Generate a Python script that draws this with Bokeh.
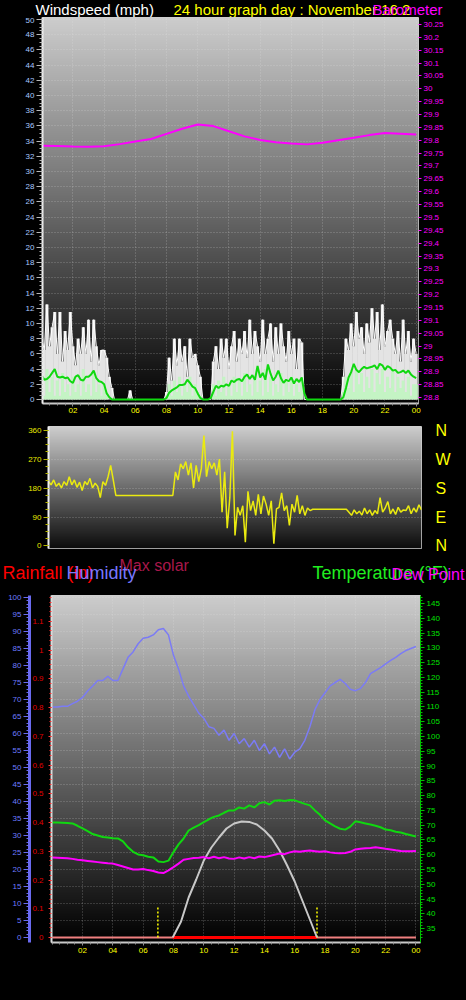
import numpy as np
from bokeh.plotting import figure
from bokeh.models import Range1d, LinearAxis, FixedTicker, Label
from bokeh.layouts import column
from bokeh.embed import file_html
from bokeh.resources import INLINE

# ---------------- data ----------------
hour_ticks = [2, 4, 6, 8, 10, 12, 14, 16, 18, 20, 22, 24]
hour_labels = ["02", "04", "06", "08", "10", "12", "14", "16", "18", "20", "22", "00"]

# wind (mph), 10-minute samples 00:00 .. 24:00
wind_gust = [
    8, 6.5, 12.5, 7, 9.5, 11.5,
    6, 11.5, 5, 9, 6.5, 11.5,
    7, 4.5, 8, 6, 9.5, 6,
    10.5, 5, 10.5, 7, 4.5, 6.5,
    6.5, 5.5, 3, 1.5, 0, 0,
    0, 0, 0, 0, 1.2, 0,
    0, 0, 0, 0, 0, 0,
    0, 0, 0, 0, 0, 0,
    1, 5.5, 2.5, 8, 4.5, 8,
    5, 7, 3, 8, 5.5, 6,
    4.5, 3, 0, 0, 0, 0,
    5, 7, 4, 8, 5.5, 8,
    4, 7, 9, 5, 8, 6,
    9, 5.5, 10.5, 6, 9, 7,
    5, 10.5, 6, 8, 10, 5,
    9.5, 6, 10, 7, 5, 9,
    6, 8, 4, 8, 7.5, 0,
    0, 0, 0, 0, 0, 0,
    0, 0, 0, 0, 0, 0,
    0, 0, 3, 8, 6.5, 10,
    7, 11.5, 8, 9.5, 6, 10,
    7.5, 12, 8, 11.5, 6.5, 12.5,
    7, 9, 10.5, 8, 6, 9,
    5, 10.5, 6, 9, 5, 8,
    6]
wind_speed = [
    2, 0.5, 4, 1, 3, 0.5,
    2.5, 0.5, 3.5, 1, 2, 0.5,
    3, 1, 2, 0.5, 4, 1,
    2, 0.5, 3.5, 1, 2, 0.5,
    2, 0.5, 0, 0, 0, 0,
    0, 0, 0, 0, 0, 0,
    0, 0, 0, 0, 0, 0,
    0, 0, 0, 0, 0, 0,
    0.5, 2, 0.5, 2.5, 1, 3,
    0.5, 2, 1, 3, 0.5, 2,
    1, 0.5, 0, 0, 0, 0,
    2, 0.5, 2.5, 1, 3, 0.5,
    2, 0.5, 3, 1, 2.5, 0.5,
    3.5, 1, 2, 0.5, 3, 1,
    2.5, 0.5, 4, 1, 3, 0.5,
    2, 1, 3.5, 0.5, 2.5, 1,
    3, 0.5, 2, 1, 2.5, 0,
    0, 0, 0, 0, 0, 0,
    0, 0, 0, 0, 0, 0,
    0, 0, 1, 3, 1.5, 3.5,
    1, 4, 2, 3.5, 1, 3,
    1.5, 4, 1, 3.5, 2, 4,
    1, 3, 1.5, 4, 1, 3,
    1.5, 2.5, 1, 3, 0.5, 2,
    2]
wind_avg = [
    3.2, 2.6, 2.7, 3.0, 3.5, 4.0,
    3.0, 2.9, 3.0, 2.8, 2.9, 2.4,
    2.2, 3.0, 3.2, 2.6, 2.5, 3.0,
    3.0, 3.3, 3.8, 2.8, 2.4, 2.3,
    2.0, 0.8, 0.3, 0, 0, 0,
    0, 0, 0, 0, 0, 0,
    0, 0, 0, 0, 0, 0,
    0, 0, 0, 0, 0, 0,
    0.2, 0.9, 1.2, 1.4, 1.6, 1.9,
    1.9, 2.0, 2.6, 2.2, 1.7, 1.5,
    0.8, 0.2, 0, 0, 0, 0.2,
    1.0, 1.8, 1.5, 1.8, 1.7, 2.0,
    1.8, 2.5, 2.3, 2.6, 2.7, 2.4,
    3.0, 3.3, 2.7, 3.2, 2.6, 4.4,
    2.9, 3.5, 2.6, 4.6, 3.4, 2.5,
    3.0, 3.8, 2.8, 2.2, 2.6, 2.4,
    2.9, 2.1, 2.7, 2.3, 2.9, 0.8,
    0, 0, 0, 0, 0, 0,
    0, 0, 0, 0, 0, 0,
    0, 0, 0.3, 1.5, 2.9, 3.6,
    4.7, 3.9, 3.6, 4.0, 4.3, 4.1,
    4.2, 4.3, 4.5, 4.0, 4.7, 4.5,
    3.9, 4.4, 4.2, 3.8, 3.9, 3.5,
    3.6, 3.8, 3.5, 3.8, 3.3, 3.0,
    2.8]

# barometer (inHg), hourly
barometer = [29.779, 29.778, 29.776, 29.775, 29.777, 29.785, 29.795, 29.805,
             29.825, 29.845, 29.861, 29.855, 29.835, 29.815, 29.801, 29.792,
             29.787, 29.784, 29.790, 29.800, 29.810, 29.820, 29.828, 29.825,
             29.822]
baro_ticks = [round(28.8 + 0.05 * i, 2) for i in range(30)]
baro_labels = ["%g" % t for t in baro_ticks]

# wind direction (degrees), 10-minute samples
wind_dir = [
    200, 190, 205, 185, 195, 180,
    200, 188, 215, 190, 205, 182,
    198, 172, 200, 190, 210, 180,
    195, 185, 150, 200, 188, 215,
    250, 205, 157, 157, 157, 157,
    157, 157, 157, 157, 157, 157,
    157, 157, 157, 157, 157, 157,
    157, 157, 157, 157, 157, 157,
    157, 230, 205, 255, 240, 262,
    220, 258, 180, 250, 200, 240,
    343, 215, 262, 240, 258, 220,
    270, 105, 230, 55, 150, 356,
    33, 120, 95, 125, 12, 170,
    110, 140, 95, 160, 100, 155,
    130, 95, 140, 7, 115, 120,
    165, 110, 125, 64, 130, 105,
    157, 100, 125, 95, 118, 110,
    114, 114, 114, 114, 114, 114,
    114, 114, 114, 114, 114, 114,
    114, 114, 105, 95, 112, 100,
    108, 96, 118, 100, 112, 95,
    110, 100, 150, 105, 118, 138,
    100, 115, 98, 120, 105, 112,
    110, 125, 100, 118, 105, 128,
    112]
compass_ticks = [0, 90, 180, 270, 360]
compass_labels = ["N", "E", "S", "W", "N"]

# humidity (%), temperature and dew point (F), 20-minute samples
humidity = [67.8, 67.8, 68.0, 68.0, 68.8, 69.5, 70.6, 72.5, 74.0, 75.6, 75.6, 76.8,
            75.6, 75.6, 79.0, 82.4, 84.0, 86.4, 88.0, 88.3, 89.0, 90.5, 90.9, 89.0,
            83.0, 79.0, 74.0, 71.0, 68.5, 66.0, 64.5, 62.0, 61.5, 59.5, 61.0, 58.0,
            60.0, 57.0, 58.5, 56.0, 58.0, 55.0, 57.0, 54.0, 56.0, 53.0, 55.5, 52.5,
            54.5, 55.5, 58.0, 62.0, 67.0, 70.0, 72.0, 74.0, 75.0, 75.9, 74.7, 73.0,
            72.6, 73.2, 75.0, 77.6, 78.5, 79.4, 80.5, 81.5, 82.4, 83.5, 84.4, 85.0,
            85.6]
temperature = [70.9, 70.9, 70.8, 70.7, 70.6, 69.8, 68.9, 68.0, 67.0, 66.5, 66.0, 65.8,
               65.6, 65.5, 64.5, 62.5, 61.0, 60.1, 59.8, 59.3, 59.1, 57.7, 57.5, 58.0,
               60.9, 63.5, 65.5, 68.2, 69.2, 70.0, 71.0, 72.0, 72.8, 73.3, 74.2, 75.0,
               75.0, 76.0, 75.6, 76.7, 76.0, 77.4, 77.8, 77.0, 78.3, 78.4, 78.2, 78.5,
               78.4, 77.8, 77.2, 76.7, 75.0, 73.5, 71.6, 70.6, 69.6, 68.8, 68.5, 69.5,
               71.3, 71.0, 70.6, 70.2, 69.8, 69.3, 68.5, 68.3, 67.8, 67.5, 67.0, 66.6,
               66.2]
dewpoint = [59.1, 59.0, 58.9, 58.8, 58.6, 58.3, 58.1, 57.9, 57.7, 57.5, 57.3, 57.1,
            57.0, 56.5, 56.0, 55.5, 55.0, 55.0, 55.2, 54.8, 54.5, 54.0, 53.8, 54.7,
            55.8, 57.0, 58.3, 58.6, 58.9, 59.0, 59.2, 58.8, 59.3, 58.8, 59.2, 58.7,
            58.6, 59.1, 58.7, 59.2, 58.8, 59.4, 59.2, 59.6, 60.0, 60.4, 60.2, 60.8,
            61.2, 61.0, 61.3, 61.4, 61.2, 61.0, 61.2, 60.8, 60.6, 60.5, 60.6, 61.0,
            61.8, 62.0, 62.2, 62.3, 62.5, 62.3, 62.0, 61.8, 61.5, 61.3, 61.2, 61.2,
            61.3]

# max solar (W/m2)
solar_hours = [7.95, 8.5, 9.0, 9.5, 10.0, 10.5, 11.0, 11.5, 12.0, 12.5, 13.0,
               13.5, 14.0, 14.5, 15.0, 15.5, 16.0, 16.5, 17.0, 17.47]
solar_max = [0, 80, 200, 290, 385, 450, 500, 545, 570, 580, 578,
             565, 535, 495, 435, 360, 280, 185, 90, 0]

# rain (in)
rain_hours = [0, 4, 8, 12, 16, 20, 24]
rain_total = [0.0, 0.0, 0.0, 0.0, 0.0, 0.0, 0.0]
rain_rate_hours = [7.95, 17.47]
rain_rate = [0.0, 0.0]

sun_events = [6.97, 17.47]   # sunrise, sunset

# ---------------- helpers ----------------
FONT = "Liberation Sans"
W = 466


def gradient_img(top, bottom, n=200):
    img = np.empty((n, 1), dtype=np.uint32)
    view = img.view(dtype=np.uint8).reshape((n, 1, 4))
    g = np.linspace(bottom, top, n).astype(np.uint8)
    view[:, 0, 0] = g
    view[:, 0, 1] = g
    view[:, 0, 2] = g
    view[:, 0, 3] = 255
    return img


def add_gradient(p, top, bottom):
    xr, yr = p.x_range, p.y_range
    p.image_rgba(image=[gradient_img(top, bottom)], x=xr.start, y=yr.start,
                 dw=xr.end - xr.start, dh=yr.end - yr.start, level="image")


def style_axis(ax, label_color, line_color=None, line_width=1, tick_color=None,
               tick_out=4, minor_out=2, standoff=2, size="8px"):
    ax.major_label_text_color = label_color
    ax.major_label_text_font = FONT
    ax.major_label_text_font_size = size
    ax.axis_line_color = line_color
    ax.axis_line_width = line_width
    ax.major_tick_line_color = tick_color
    ax.minor_tick_line_color = tick_color
    ax.major_tick_out = tick_out
    ax.major_tick_in = 0
    ax.minor_tick_out = minor_out
    ax.minor_tick_in = 0
    ax.major_label_standoff = standoff


def style_grid(g):
    g.grid_line_color = "#e8e8e8"
    g.grid_line_alpha = 0.35
    g.grid_line_dash = "1 2"


def make_fig(h, xr, yr, left, right, top, bottom):
    return figure(width=W, height=h, x_range=xr, y_range=yr,
                  output_backend="svg", toolbar_location=None, frame_align=False,
                  min_border_left=left, min_border_right=right,
                  min_border_top=top, min_border_bottom=bottom,
                  background_fill_color="black", border_fill_color="black",
                  outline_line_color="#d0d0d0", outline_line_width=1)


def text_strip(y_top, y_bottom):
    """A black strip whose whole canvas is its frame; y given in page pixels."""
    t = figure(width=W, height=y_bottom - y_top, x_range=Range1d(0, W),
               y_range=Range1d(y_bottom, y_top), output_backend="svg",
               toolbar_location=None, frame_align=False, min_border=0,
               background_fill_color="black", border_fill_color="black",
               outline_line_color=None)
    t.axis.visible = False
    t.grid.visible = False
    return t


def add_text(p, px, py_bottom, text, color, size="18px"):
    # (px, py_bottom): left / bottom corner of the text box, in page pixels
    p.add_layout(Label(x=px, y=py_bottom, text=text, text_color=color, text_font=FONT,
                       text_font_size=size, text_align="left", text_baseline="bottom"))


half_hours = [i * 0.5 for i in range(49)]

# ---------------- title strip ----------------
tA = text_strip(0, 17)
add_text(tA, 35, 17, "Windspeed (mph)", "#ffffff", "15px")
add_text(tA, 173, 17, "24 hour graph day : November 16 2", "#ffff00", "15px")
add_text(tA, 372, 17, "Barometer", "#ff00ff", "15px")

# ---------------- panel 1 : wind speed + barometer ----------------
p1 = make_fig(401, Range1d(0.05, 24.15), Range1d(-0.526, 50.26), 42, 48, 0, 15)
add_gradient(p1, 205, 5)
p1.extra_y_ranges = {"baro": Range1d(28.7767, 30.2772)}

p1.xaxis.ticker = FixedTicker(ticks=hour_ticks, minor_ticks=half_hours)
p1.xaxis.major_label_overrides = dict(zip(hour_ticks, hour_labels))
style_axis(p1.xaxis[0], "#ffff00", "#c8c8c8", 2, "#909090", 3, 2, 1)
p1.yaxis.ticker = FixedTicker(ticks=list(range(0, 51, 2)),
                              minor_ticks=[i * 0.5 for i in range(101)])
style_axis(p1.yaxis[0], "#a8c8ff", "#eeeeee", 2, "#b8b8b8", 6, 3, 2)
ax_b = LinearAxis(y_range_name="baro", ticker=FixedTicker(ticks=baro_ticks),
                  major_label_overrides=dict(zip(baro_ticks, baro_labels)))
style_axis(ax_b, "#ff00ff", None, 1, "#ff00ff", 3, 0, 2)
p1.add_layout(ax_b, "right")
for g in (p1.xgrid, p1.ygrid):
    style_grid(g)
p1.ygrid.ticker = FixedTicker(ticks=list(range(2, 51, 2)))

t10 = np.arange(len(wind_gust)) / 6.0
p1.vbar(x=t10, top=wind_gust, bottom=0, width=0.2, fill_color="#e4e4e4",
        fill_alpha=1.0, line_color=None)
p1.line(t10, wind_gust, line_color="#ffffff", line_width=1)
p1.vbar(x=t10, top=wind_speed, bottom=0, width=0.2, fill_color="#c4f4c4",
        fill_alpha=1.0, line_color=None)
p1.line(t10, wind_avg, line_color="#10d810", line_width=2)
p1.line(np.arange(len(barometer)), barometer, y_range_name="baro",
        line_color="#ff00ff", line_width=2)

# ---------------- panel 2 : wind direction ----------------
p2 = make_fig(137, Range1d(0, 24), Range1d(-7.76, 370.9), 48, 45, 8, 7)
add_gradient(p2, 205, 12)
p2.xaxis.visible = False
p2.xgrid.visible = False
p2.yaxis.ticker = FixedTicker(ticks=compass_ticks,
                              minor_ticks=[i * 22.5 for i in range(17)])
style_axis(p2.yaxis[0], "#e8e800", "#f0f0f0", 2, "#b8b800", 5, 3, 2)
ax_c = LinearAxis(ticker=FixedTicker(ticks=compass_ticks),
                  major_label_overrides=dict(zip(compass_ticks, compass_labels)))
style_axis(ax_c, "#ffff00", None, 1, None, 0, 0, 14, "16px")
p2.add_layout(ax_c, "right")
style_grid(p2.ygrid[0])
p2.ygrid.ticker = FixedTicker(ticks=[90, 180, 270])

p2.line(np.arange(len(wind_dir)) / 6.0, wind_dir, line_color="#eaea10", line_width=1.5)

# ---------------- heading strip ----------------
tB = text_strip(555, 590)
add_text(tB, 119, 573, "Max solar", "#a8184a", "16px")
add_text(tB, 2, 582, "Rainfall (in)", "#ff0000")
add_text(tB, 66, 582, "Humidity", "#7878ff")
add_text(tB, 312, 582, "Temperature (°F)", "#20ee20")
add_text(tB, 391, 582, "Dew Point", "#ff00ff", "16px")

# ---------------- panel 3 : humidity / temperature / rain / solar ----------------
p3 = make_fig(410, Range1d(-0.05, 24.3), Range1d(-0.0174, 1.190), 51, 46, 5, 58)
add_gradient(p3, 205, 0)
p3.extra_y_ranges = {"hum": Range1d(-1.47, 100.59), "temp": Range1d(30.31, 147.7),
                     "solar": Range1d(-25, 1710)}

p3.xaxis.ticker = FixedTicker(ticks=hour_ticks, minor_ticks=half_hours)
p3.xaxis.major_label_overrides = dict(zip(hour_ticks, hour_labels))
style_axis(p3.xaxis[0], "#ffff00", "#c8c8c8", 2, "#909090", 3, 2, 2)

rain_ticks = [round(0.1 * i, 1) for i in range(12)]
rain_labels = ["%g" % t for t in rain_ticks]
p3.yaxis.ticker = FixedTicker(ticks=rain_ticks,
                              minor_ticks=[i / 60.0 for i in range(72)])
p3.yaxis.major_label_overrides = dict(zip(rain_ticks, rain_labels))
style_axis(p3.yaxis[0], "#e00000", "#dcdcdc", 2, "#ff3030", 3, 2, 5)

ax_h = LinearAxis(y_range_name="hum",
                  ticker=FixedTicker(ticks=list(range(0, 101, 5)),
                                     minor_ticks=list(range(0, 101))))
style_axis(ax_h, "#6d7bff", "#6a6af0", 3, "#6a6af0", 6, 3, 2)
p3.add_layout(ax_h, "left")

ax_t = LinearAxis(y_range_name="temp",
                  ticker=FixedTicker(ticks=list(range(35, 146, 5)),
                                     minor_ticks=list(range(32, 148))))
style_axis(ax_t, "#00e000", "#00c000", 1, "#00c000", 4, 2, 2)
p3.add_layout(ax_t, "right")

for g in (p3.xgrid, p3.ygrid):
    style_grid(g)
p3.ygrid.ticker = FixedTicker(ticks=list(range(5, 101, 5)))
p3.ygrid.y_range_name = "hum"

t20 = np.arange(len(humidity)) / 3.0
p3.line(rain_hours, rain_total, line_color="#f08080", line_width=2)
p3.line(rain_rate_hours, rain_rate, line_color="#ff0000", line_width=3)
p3.segment(x0=sun_events, y0=[0, 0], x1=sun_events, y1=[0.105, 0.105],
           line_color="#ffff00", line_width=1.5, line_dash="2 2")
p3.line(solar_hours, solar_max, y_range_name="solar", line_color="#c8c8c8", line_width=2)
p3.line(t20, humidity, y_range_name="hum", line_color="#7b7bf5", line_width=1.5)
p3.line(t20, dewpoint, y_range_name="temp", line_color="#ff00ff", line_width=2)
p3.line(t20, temperature, y_range_name="temp", line_color="#10d810", line_width=2)

layout = column(tA, p1, p2, tB, p3, styles={"background-color": "black"})
open("out.html", "w").write(file_html(layout, INLINE))
